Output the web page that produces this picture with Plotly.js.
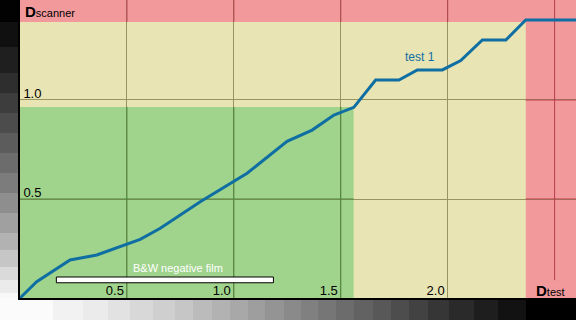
<!DOCTYPE html>
<html>
<head>
<meta charset="utf-8">
<script src="https://cdn.plot.ly/plotly-3.0.1.min.js"></script>
<style>
  html, body { margin: 0; padding: 0; background: #ffffff; }
  #chart { width: 576px; height: 320px; }
</style>
</head>
<body>
<div id="chart"></div>
<script>
// Characteristic curve of the test scan: test density vs. scanner density
const seriesName = 'test 1';
const densityTest    = [0, 0.078, 0.234, 0.359, 0.562, 0.656, 0.843, 1.062, 1.249, 1.366, 1.468, 1.561,
                        1.663, 1.772, 1.858, 1.975, 2.061, 2.162, 2.272, 2.365, 2.62];
const densityScanner = [0, 0.082, 0.192, 0.217, 0.296, 0.352, 0.486, 0.630, 0.791, 0.848, 0.924, 0.963,
                        1.101, 1.101, 1.152, 1.152, 1.199, 1.303, 1.303, 1.404, 1.404];

// Axis ticks
const xTickVals = [0.5, 1.0, 1.5, 2.0];
const xTickText = ['0.5', '1.0', '1.5', '2.0'];
const xExtraGrid = [2.5];
const yTickVals = [0.5, 1.0];
const yTickText = ['0.5', '1.0'];

// Density range of the film stock
const filmLabel = 'B&W negative film';
const filmRange = [0.17, 1.185];

// Zones: usable range, and the saturated limits of scanner and test
const usableTest = 1.56;
const usableScanner = 0.965;
const scannerLimit = 1.394;
const testLimit = 2.365;

// Step wedge grays around the plot
const leftWedgeEdges = [0, 22, 47, 73, 93, 113, 133, 153, 173, 193, 213, 233, 250, 267, 280, 293, 298];
const leftWedgeGrays = ['#020202', '#101010', '#1f1f1f', '#2e2e2e', '#3d3d3d', '#4c4c4c', '#5c5c5c',
                        '#6c6c6c', '#7c7c7c', '#8e8e8e', '#a0a0a0', '#b2b2b2', '#c6c6c6', '#dadada',
                        '#ebebeb', '#f8f8f8'];
const bottomWedgeEdges = [0, 53, 83, 108, 130, 153, 175, 193, 212, 230, 248, 265, 284, 301, 318, 336,
                          354, 373, 391, 409, 428, 449, 474, 498, 526, 576];
const bottomWedgeGrays = ['#fbfbfb', '#f2f2f2', '#ebebeb', '#e2e2e2', '#d8d8d8', '#cfcfcf', '#c6c6c6',
                          '#bbbbbb', '#b2b2b2', '#a8a8a8', '#9e9e9e', '#949494', '#8a8a8a', '#808080',
                          '#767676', '#6c6c6c', '#626262', '#585858', '#4d4d4d', '#424242', '#363636',
                          '#2a2a2a', '#1e1e1e', '#121212', '#000000'];

const COL = {
  paper: '#e8e4b4', usable: '#a0d48c', limit: '#f2999c', curve: '#0f6ea2',
  gridPaper: '#979460', gridUsable: '#468438', gridLimit: '#b63c4c'
};
const FONT = '"Liberation Sans", Arial, sans-serif';

const WIDTH = 576, HEIGHT = 320;
const M = { l: 20, r: 0, t: 0, b: 22 };
const X_MAX = 2.6, Y_MAX = 1.505;
const plotW = WIDTH - M.l - M.r, plotH = HEIGHT - M.t - M.b;
const px2paperX = px => (px - M.l) / plotW;
const px2paperY = py => (M.t + plotH - py) / plotH;

const shapes = [];

// step wedge (left column and bottom strip)
for (let i = 0; i < leftWedgeGrays.length; i++) {
  shapes.push({ type: 'rect', xref: 'paper', yref: 'paper', layer: 'below',
    x0: px2paperX(0), x1: px2paperX(M.l), y0: px2paperY(leftWedgeEdges[i]), y1: px2paperY(leftWedgeEdges[i + 1]),
    fillcolor: leftWedgeGrays[i], line: { width: 0 } });
}
for (let i = 0; i < bottomWedgeGrays.length; i++) {
  shapes.push({ type: 'rect', xref: 'paper', yref: 'paper', layer: 'below',
    x0: px2paperX(bottomWedgeEdges[i]), x1: px2paperX(bottomWedgeEdges[i + 1]),
    y0: px2paperY(M.t + plotH), y1: px2paperY(HEIGHT),
    fillcolor: bottomWedgeGrays[i], line: { width: 0 } });
}

// zones
shapes.push({ type: 'rect', xref: 'x', yref: 'y', layer: 'below',
  x0: 0, x1: usableTest, y0: 0, y1: usableScanner, fillcolor: COL.usable, line: { width: 0 } });
shapes.push({ type: 'rect', xref: 'x', yref: 'y', layer: 'below',
  x0: 0, x1: X_MAX, y0: scannerLimit, y1: Y_MAX, fillcolor: COL.limit, line: { width: 0 } });
shapes.push({ type: 'rect', xref: 'x', yref: 'y', layer: 'below',
  x0: testLimit, x1: X_MAX, y0: 0, y1: Y_MAX, fillcolor: COL.limit, line: { width: 0 } });

// grid lines tinted to the zone they cross
function gridSeg(x0, y0, x1, y1, color) {
  shapes.push({ type: 'line', xref: 'x', yref: 'y', layer: 'between',
    x0: x0, y0: y0, x1: x1, y1: y1, line: { color: color, width: 1 } });
}
xTickVals.forEach(v => {
  if (v < usableTest) gridSeg(v, 0, v, usableScanner, COL.gridUsable);
  gridSeg(v, scannerLimit, v, Y_MAX, COL.gridLimit);
});
xExtraGrid.forEach(v => gridSeg(v, 0.09, v, Y_MAX, COL.gridLimit));
yTickVals.forEach(v => {
  if (v < usableScanner) gridSeg(0, v, usableTest, v, COL.gridUsable);
  gridSeg(testLimit, v, X_MAX, v, COL.gridLimit);
});

// film density range bar
shapes.push({ type: 'rect', xref: 'x', yref: 'y', layer: 'above',
  x0: filmRange[0], x1: filmRange[1], y0: 0.077, y1: 0.106,
  fillcolor: '#ffffff', line: { color: '#000000', width: 1 } });

const trace = {
  type: 'scatter', mode: 'lines', name: seriesName,
  x: densityTest, y: densityScanner,
  line: { color: COL.curve, width: 3 },
  hoverinfo: 'skip', showlegend: false, cliponaxis: true
};

const annotations = [
  { xref: 'paper', yref: 'paper', x: px2paperX(23), y: px2paperY(11), xanchor: 'left', yanchor: 'middle',
    showarrow: false, text: '<b>D</b><span style="font-size:11px">scanner</span>',
    font: { family: FONT, size: 15, color: '#000000' } },
  { xref: 'paper', yref: 'paper', x: px2paperX(534), y: px2paperY(290), xanchor: 'left', yanchor: 'middle',
    showarrow: false, text: '<b>D</b><span style="font-size:11px">test</span>',
    font: { family: FONT, size: 15, color: '#000000' } },
  { xref: 'x', yref: 'y', x: 1.869, y: 1.217, xanchor: 'center', yanchor: 'middle',
    showarrow: false, text: seriesName, font: { family: FONT, size: 12, color: COL.curve } },
  { xref: 'x', yref: 'y', x: 0.74, y: 0.152, xanchor: 'center', yanchor: 'middle',
    showarrow: false, text: filmLabel, font: { family: FONT, size: 11, color: '#ffffff' } }
];

const layout = {
  width: WIDTH, height: HEIGHT,
  margin: M,
  paper_bgcolor: '#ffffff',
  plot_bgcolor: COL.paper,
  showlegend: false,
  font: { family: FONT, size: 13, color: '#000000' },
  xaxis: {
    range: [0, X_MAX], tickvals: xTickVals, ticktext: xTickText,
    ticklabelposition: 'inside left', ticks: '',
    ticklabelstandoff: -3, ticklabelshift: -2,
    showgrid: true, gridcolor: COL.gridPaper, gridwidth: 1,
    zeroline: false, showline: true, linecolor: '#000000', linewidth: 2,
    tickfont: { family: FONT, size: 13, color: '#000000' }, fixedrange: true
  },
  yaxis: {
    range: [0, Y_MAX], tickvals: yTickVals, ticktext: yTickText,
    ticklabelposition: 'inside top', ticks: '',
    ticklabelstandoff: 2, ticklabelshift: 3,
    showgrid: true, gridcolor: COL.gridPaper, gridwidth: 1,
    zeroline: false, showline: true, linecolor: '#000000', linewidth: 2,
    tickfont: { family: FONT, size: 13, color: '#000000' }, fixedrange: true
  },
  shapes: shapes,
  annotations: annotations
};

Plotly.newPlot('chart', [trace], layout, { displayModeBar: false, staticPlot: true });
</script>
</body>
</html>
